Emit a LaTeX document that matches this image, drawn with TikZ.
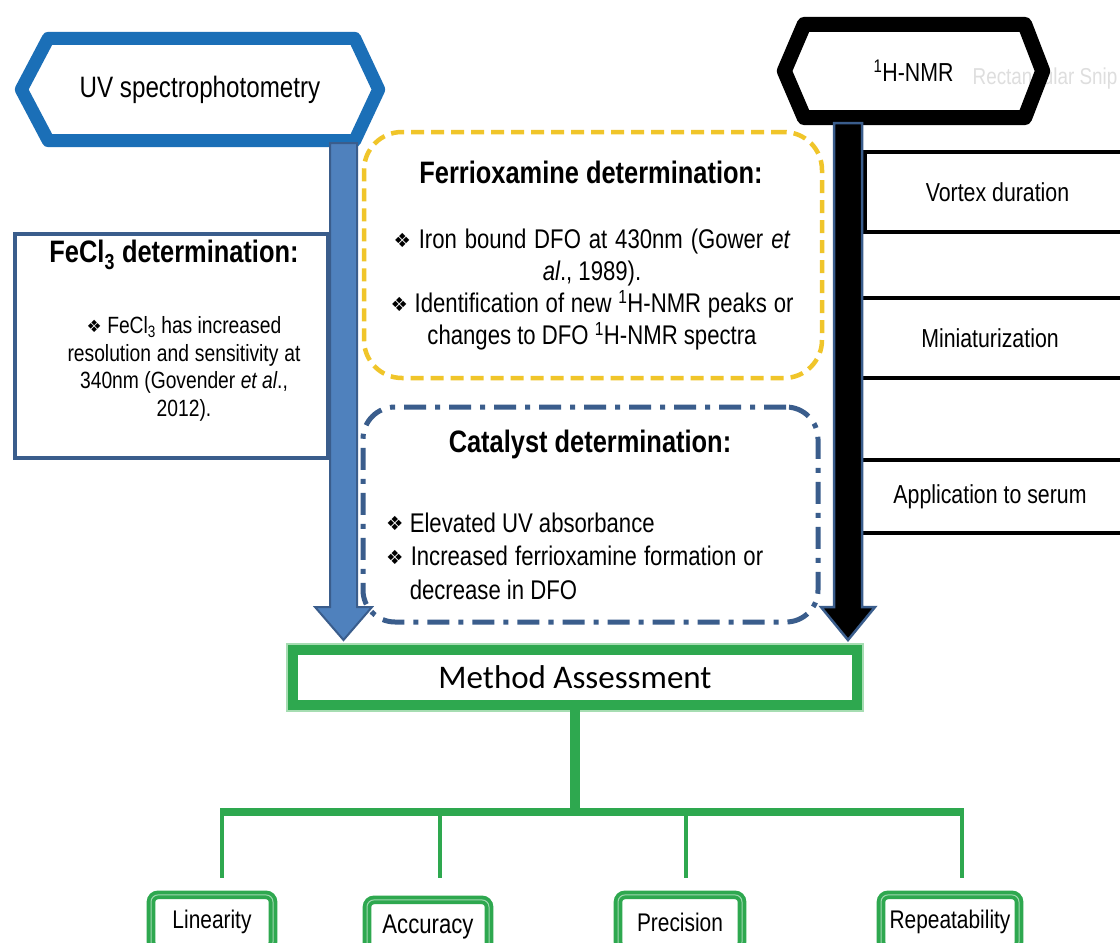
\documentclass[tikz,border=0pt]{standalone}
\usepackage{fontspec}
\setmainfont{Liberation Sans}[FakeStretch=0.82]
\newfontfamily\dvfont{DejaVu Sans}
\newfontfamily\calfont{Carlito}
\usetikzlibrary{calc}
\definecolor{uvblue}{HTML}{1B6FB7}
\definecolor{arrowblue}{HTML}{4F81BD}
\definecolor{slate}{HTML}{3A5D8C}
\definecolor{gold}{HTML}{F0C52A}
\definecolor{mgreen}{HTML}{2EA84F}
\definecolor{lgreen}{HTML}{A6DDB2}
\newcommand\bul{{\dvfont\scalebox{0.72}{\raisebox{0.15ex}{❖}}}\ }
\newcommand\fsz[2]{\fontsize{#1}{#2}\selectfont}
\newcommand\jline[2]{\makebox[#1pt][s]{#2}}
% #1 style, #2 start, #3 tip, #4 half shaft, #5 half head
\newcommand\blockarrow[5]{%
  \draw[#1] ($(#2)+(-#4,0)$) -- ($(#3)+(-#4,-33)$) -- ($(#3)+(-#5,-33)$) -- (#3)
    -- ($(#3)+(#5,-33)$) -- ($(#3)+(#4,-33)$) -- ($(#2)+(#4,0)$) -- cycle;}
\begin{document}
\begin{tikzpicture}[x=1pt,y=-1pt,
  plain/.style={inner sep=0pt},
  title/.style={inner sep=0pt, font=\bfseries\fsz{31}{34}},
  body/.style={inner sep=0pt, font=\fsz{27}{32}},
  sidebox/.style={draw=black, line width=3.5pt, inner sep=0pt, font=\fsz{26}{30}},
  critbox/.style={draw=mgreen, line width=3.8pt, double=mgreen!45!white, double distance=1pt,
    rounded corners=7pt, fill=white, anchor=north, minimum height=54pt, inner sep=0pt,
    font=\fsz{25.5}{29}},
  tree/.style={mgreen, line width=4pt}
]
\useasboundingbox (0,0) rectangle (1120,943);
\fill[white] (0,0) rectangle (1120,943);

% faint watermark
\node[plain, text=black!13, font=\fsz{23}{26}] (snip) at (1045,79) {Rectangular Snip};

% hexagons
\node[plain, minimum width=357pt, minimum height=102pt, font=\fsz{29.5}{32}] (uv) at (200,89.5) {UV spectrophotometry};
\draw[uvblue, line width=13pt, line join=round] (uv.west) -- ([xshift=27pt]uv.north west)
  -- ([xshift=-24pt]uv.north east) -- (uv.east) -- ([xshift=-24pt]uv.south east)
  -- ([xshift=27pt]uv.south west) -- cycle;

\node[plain, minimum width=258pt, minimum height=93pt, font=\fsz{26}{30}] (nmr) at (913.5,71) {\raisebox{-6pt}{\textsuperscript{1}H-NMR}};
\draw[black, line width=15pt, line join=round] (nmr.west) -- ([xshift=20pt]nmr.north west)
  -- ([xshift=-18pt]nmr.north east) -- (nmr.east) -- ([xshift=-18pt]nmr.south east)
  -- ([xshift=20pt]nmr.south west) -- cycle;

% FeCl3 box
\node[draw=slate, line width=4pt, minimum width=313pt, minimum height=224pt, inner sep=0pt] (fecl) at (171.5,346) {};
\node[title] (fecltitle) at (174,255) {FeCl\textsubscript{3} determination:};
\node[plain, align=center, font=\fsz{23.5}{27.5}] (feclbody) at (184,369)
  {\bul FeCl\textsubscript{3} has increased\\\jline{233}{resolution and sensitivity at}\\340nm (Govender \textit{et al}.,\\2012).};

% right side boxes
\node[sidebox, minimum width=265pt, minimum height=80pt] (vortex) at (997.5,192) {Vortex duration};
\node[sidebox, minimum width=280pt, minimum height=80pt] (mini) at (990,338) {\raisebox{-4pt}{Miniaturization}};
\node[sidebox, minimum width=280pt, minimum height=73pt] (serum) at (990,496.5) {\raisebox{-2pt}{Application to serum}};

% ferrioxamine box
\node[draw=gold, line width=4.5pt, dash pattern=on 13pt off 7pt, rounded corners=38pt,
  minimum width=458pt, minimum height=246pt, inner sep=0pt] (ferri) at (593,255) {};
\node[title] (ferrititle) at (591,172) {Ferrioxamine determination:};
\node[body, align=center] (ferribody) at (592,290)
  {\jline{397}{\bul Iron bound DFO at 430nm (Gower \textit{et}}\\\textit{al}., 1989).\\
   \jline{403}{\bul Identification of new \textsuperscript{1}H-NMR peaks or}\\changes to DFO \textsuperscript{1}H-NMR spectra};

% catalyst box
\node[draw=slate, line width=5pt, dash pattern=on 22pt off 9pt on 5pt off 9pt, rounded corners=32pt,
  minimum width=455pt, minimum height=215pt, inner sep=0pt] (cat) at (590.5,514.5) {};
\node[title] (cattitle) at (590,444) {Catalyst determination:};
\node[plain, align=left, anchor=west, font=\fsz{27}{33.5}] (catbody) at (386,556)
  {\bul Elevated UV absorbance\\\jline{377}{\bul Increased ferrioxamine formation or}\\\phantom{\bul}decrease in DFO};

% method assessment
\node[draw=mgreen, line width=10pt, fill=white, minimum width=564pt, minimum height=55pt, inner sep=0pt,
  font=\calfont\fsz{33}{36}, preaction={draw=lgreen, line width=14pt}] (ma) at (575,677.5) {Method Assessment};

% block arrows
\coordinate (bs) at ([xshift=143.5pt,yshift=-2.5pt]uv.south);
\coordinate (be) at ([yshift=5pt]bs |- ma.north);
\blockarrow{fill=arrowblue, draw=slate, line width=2pt, line join=miter}{bs}{be}{13.5}{28.5}
\coordinate (ks) at ([xshift=-65.5pt,yshift=-5.5pt]nmr.south);
\coordinate (ke) at ([yshift=5pt]ks |- ma.north);
\blockarrow{fill=black, draw=slate, line width=2.5pt, line join=miter}{ks}{ke}{14}{27}

% criteria
\node[critbox, minimum width=122pt] (lin) at (212,893) {Linearity};
\node[critbox, minimum width=122pt, font=\fsz{27}{30}] (acc) at (428,898) {Accuracy};
\node[critbox, minimum width=124pt] (pre) at (680,893) {Precision};
\node[critbox, minimum width=138pt] (rep) at (950,893) {Repeatability};

% tree
\coordinate (hb) at (577,812);
\coordinate (v1) at (222,812);
\coordinate (v2) at (440,812);
\coordinate (v3) at (686,812);
\coordinate (v4) at (962,812);
\draw[mgreen, line width=10pt] (ma.south) -- (ma.south |- hb);
\draw[mgreen, line width=8pt] ([xshift=-2pt]v1) -- ([xshift=2pt]v4);
\draw[tree, shorten >=15pt] (v1) -- (v1 |- lin.north);
\draw[tree, shorten >=20pt] (v2) -- (v2 |- acc.north);
\draw[tree, shorten >=15pt] (v3) -- (v3 |- pre.north);
\draw[tree, shorten >=15pt] (v4) -- (v4 |- rep.north);
\end{tikzpicture}
\end{document}
